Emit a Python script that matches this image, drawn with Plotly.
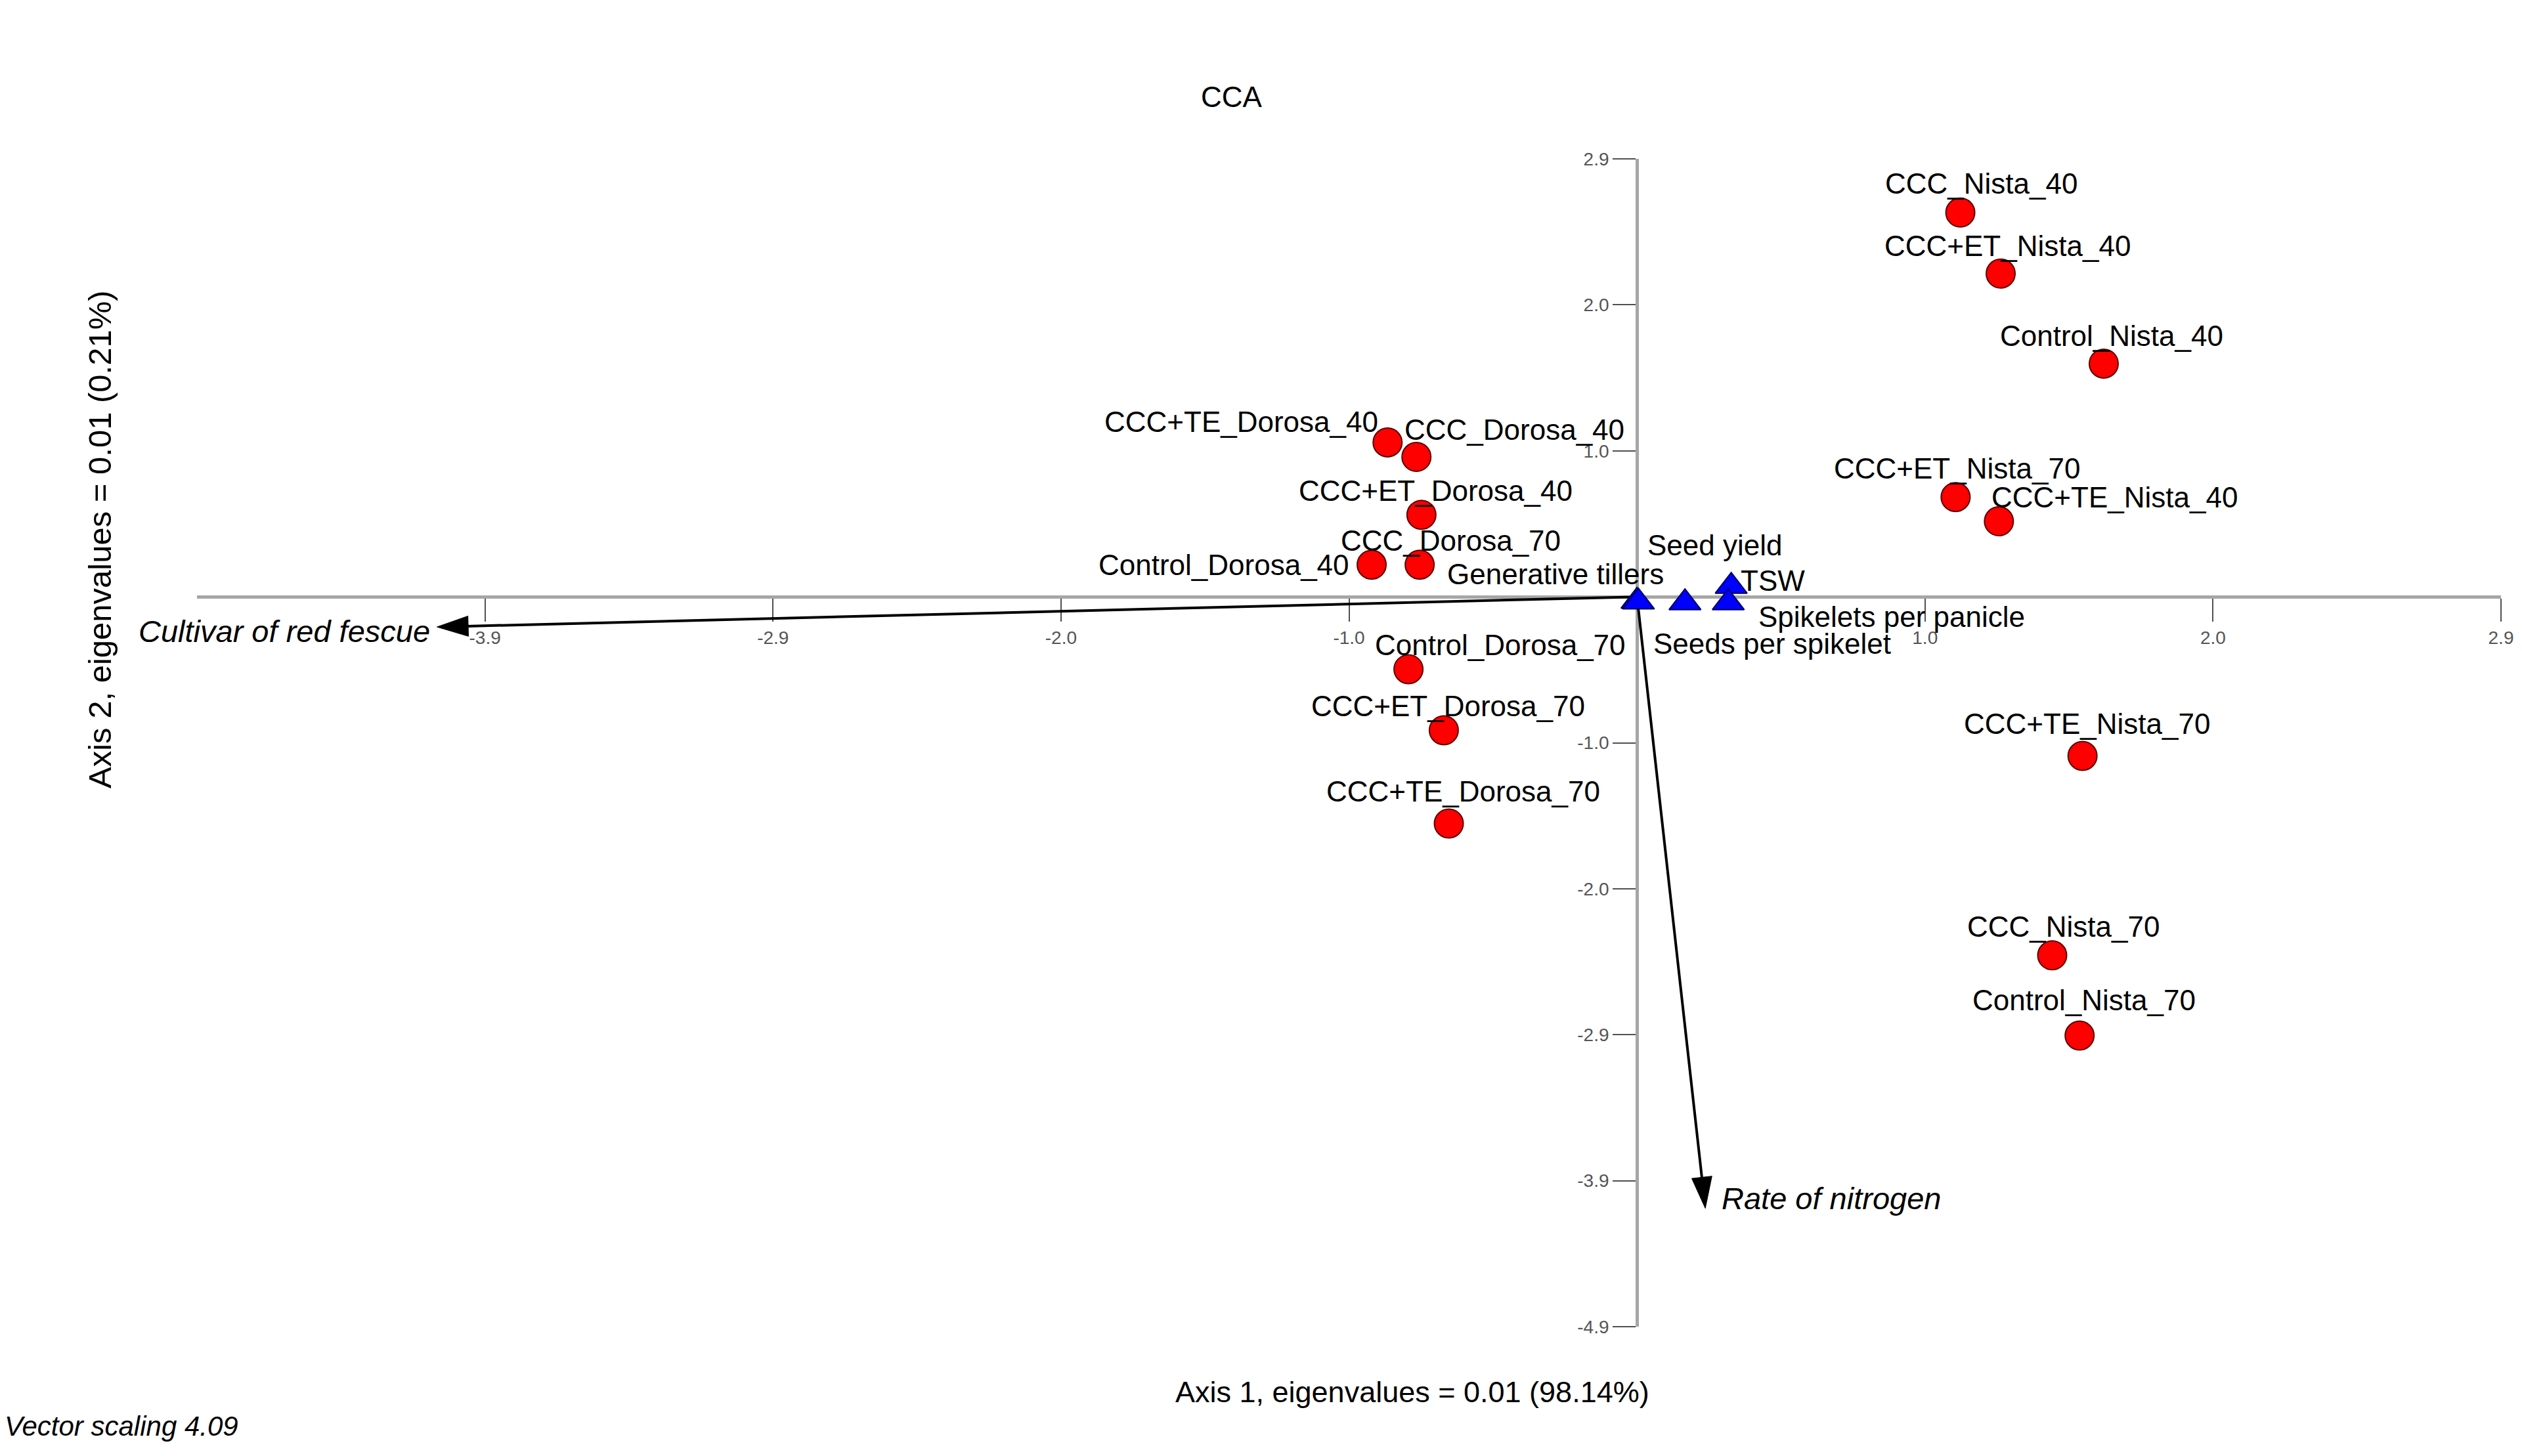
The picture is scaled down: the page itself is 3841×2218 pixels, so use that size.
import plotly.graph_objects as go

# ---------------- data ----------------
TICK_STEP = 0.978  # distance between axis ticks (data units)

samples = ["CCC_Nista_40", "CCC+ET_Nista_40", "Control_Nista_40", "CCC+ET_Nista_70",
           "CCC+TE_Nista_40", "CCC+TE_Nista_70", "CCC_Nista_70", "Control_Nista_70",
           "CCC+TE_Dorosa_40", "CCC_Dorosa_40", "CCC+ET_Dorosa_40", "Control_Dorosa_40",
           "CCC_Dorosa_70", "Control_Dorosa_70", "CCC+ET_Dorosa_70", "CCC+TE_Dorosa_70"]
sample_axis1 = [1.098, 1.235, 1.585, 1.082, 1.229, 1.513, 1.410, 1.503,
                -0.847, -0.749, -0.732, -0.901, -0.738, -0.776, -0.656, -0.639]
sample_axis2 = [2.574, 2.165, 1.562, 0.668, 0.506, -1.066, -2.402, -2.940,
                1.034, 0.937, 0.549, 0.215, 0.215, -0.485, -0.894, -1.519]

traits = ["Generative tillers", "Seeds per spikelet", "Seed yield", "TSW", "Spikelets per panicle"]
trait_axis1 = [0.000, 0.005, 0.163, 0.320, 0.310]
trait_axis2 = [-0.030, -0.035, -0.040, 0.070, -0.040]

env_vars = ["Cultivar of red fescue", "Rate of nitrogen"]
env_axis1 = [-4.075, 0.232]
env_axis2 = [-0.202, -4.097]

x_tick_index = [-4, -3, -2, -1, 1, 2, 3]
x_tick_labels = ["-3.9", "-2.9", "-2.0", "-1.0", "1.0", "2.0", "2.9"]
y_tick_index = [3, 2, 1, -1, -2, -3, -4, -5]
y_tick_labels = ["2.9", "2.0", "1.0", "-1.0", "-2.0", "-2.9", "-3.9", "-4.9"]

title_text = "CCA"
axis1_title = "Axis 1, eigenvalues = 0.01 (98.14%)"
axis2_title = "Axis 2, eigenvalues = 0.01 (0.21%)"
footnote = "Vector scaling 4.09"

# ---------------- label placement (pixel offsets) ----------------
sample_label_dx = [32, 10, 12, 2, 176, 7, 17, 7, -223, 149, 22, -225, 47, 140, 7, 22]
sample_label_dy = [44, 42, 42, 44, 37, 49, 44, 54, 32, 42, 37, 0, 37, 37, 37, 49]
trait_label_dx = [-124, 204, 45, 63, 249]
trait_label_dy = [41, -63, 88, 9, -21]
env_label_dx = [-233, 192]
env_label_dy = [-6, 15]

FONT = "Liberation Sans, Arial, Helvetica, sans-serif"
LABEL_SIZE = 44

fig = go.Figure()

# environmental vectors (arrows from origin)
for name, ex, ey in zip(env_vars, env_axis1, env_axis2):
    fig.add_trace(go.Scatter(
        x=[0, ex], y=[0, ey], mode="lines+markers",
        line=dict(color="black", width=4),
        marker=dict(symbol=["circle", "arrow"], size=[0, 50], color="black",
                    angleref="previous", opacity=1, line=dict(width=1, color="black")),
        hoverinfo="skip", showlegend=False, name=name))

# samples
fig.add_trace(go.Scatter(
    x=sample_axis1, y=sample_axis2, mode="markers", text=samples,
    marker=dict(symbol="circle", size=44, color="#ff0000", opacity=1,
                line=dict(color="#5a0000", width=2)),
    showlegend=False, name="samples"))

# traits
fig.add_trace(go.Scatter(
    x=trait_axis1, y=trait_axis2, mode="markers", text=traits,
    marker=dict(symbol="triangle-up", size=42, color="#0000ff", opacity=1,
                line=dict(color="#000060", width=2)),
    showlegend=False, name="traits"))

annotations = []
for name, x, y, dx, dy in zip(samples, sample_axis1, sample_axis2, sample_label_dx, sample_label_dy):
    annotations.append(dict(x=x, y=y, xref="x", yref="y", text=name, showarrow=False,
                            xanchor="center", yanchor="middle", xshift=dx, yshift=dy,
                            font=dict(family=FONT, size=LABEL_SIZE, color="black")))
for name, x, y, dx, dy in zip(traits, trait_axis1, trait_axis2, trait_label_dx, trait_label_dy):
    annotations.append(dict(x=x, y=y, xref="x", yref="y", text=name, showarrow=False,
                            xanchor="center", yanchor="middle", xshift=dx, yshift=dy,
                            font=dict(family=FONT, size=LABEL_SIZE, color="black")))
for name, x, y, dx, dy in zip(env_vars, env_axis1, env_axis2, env_label_dx, env_label_dy):
    annotations.append(dict(x=x, y=y, xref="x", yref="y", text="<i>" + name + "</i>", showarrow=False,
                            xanchor="center", yanchor="middle", xshift=dx, yshift=dy,
                            font=dict(family=FONT, size=47, color="black")))

annotations.append(dict(x=0.449, y=1.053, xref="paper", yref="paper", text=title_text,
                        showarrow=False, xanchor="center", yanchor="middle",
                        font=dict(family=FONT, size=44, color="black")))
annotations.append(dict(x=0.5275, y=-0.0562, xref="paper", yref="paper", text=axis1_title,
                        showarrow=False, xanchor="center", yanchor="middle",
                        font=dict(family=FONT, size=45, color="black")))
annotations.append(dict(x=-0.0422, y=0.6745, xref="paper", yref="paper", text=axis2_title,
                        showarrow=False, xanchor="center", yanchor="middle", textangle=-90,
                        font=dict(family=FONT, size=49, color="black")))
annotations.append(dict(x=-0.0840, y=-0.0854, xref="paper", yref="paper", text="<i>" + footnote + "</i>",
                        showarrow=False, xanchor="left", yanchor="middle",
                        font=dict(family=FONT, size=42, color="black")))

axis_common = dict(showline=True, linecolor="#a6a6a6", linewidth=5, ticks="outside",
                   ticklen=35, tickwidth=2, tickcolor="#505050", showgrid=False,
                   zeroline=False, layer="below traces", anchor="free", position=0.625,
                   tickfont=dict(family=FONT, size=28, color="#555555"))

fig.update_layout(
    width=3841, height=2218,
    margin=dict(l=300, r=32, t=242, b=197),
    paper_bgcolor="white", plot_bgcolor="white",
    xaxis=dict(range=[-5 * TICK_STEP, 3 * TICK_STEP],
               tickvals=[k * TICK_STEP for k in x_tick_index], ticktext=x_tick_labels,
               **axis_common),
    yaxis=dict(range=[-5 * TICK_STEP, 3 * TICK_STEP],
               tickvals=[k * TICK_STEP for k in y_tick_index], ticktext=y_tick_labels,
               **axis_common),
    annotations=annotations,
    showlegend=False,
)

fig.write_html("out.html", config={"displayModeBar": False},
               post_script="document.body.style.margin='0';document.body.style.overflow='hidden';")
